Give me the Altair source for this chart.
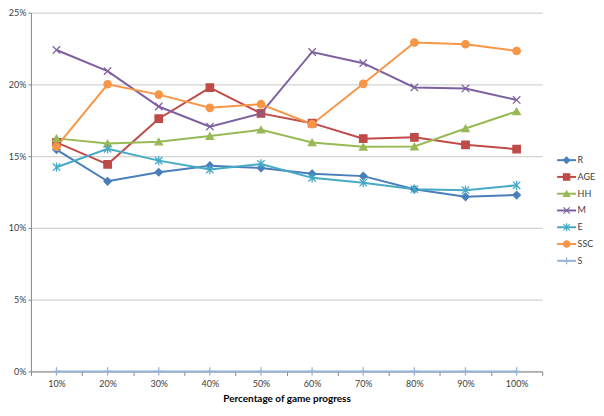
import altair as alt
import pandas as pd

progress = ["10%", "20%", "30%", "40%", "50%", "60%", "70%", "80%", "90%", "100%"]
series = ["R", "AGE", "HH", "M", "E", "SSC", "S"]

R = [15.46, 13.25, 13.88, 14.34, 14.18, 13.77, 13.61, 12.70, 12.17, 12.29]
AGE = [15.96, 14.43, 17.61, 19.77, 17.98, 17.30, 16.22, 16.31, 15.79, 15.49]
HH = [16.24, 15.88, 16.01, 16.40, 16.84, 15.96, 15.65, 15.67, 16.93, 18.12]
M = [22.40, 20.93, 18.46, 17.06, 17.98, 22.26, 21.48, 19.79, 19.72, 18.92]
E = [14.23, 15.51, 14.69, 14.07, 14.46, 13.49, 13.15, 12.70, 12.63, 12.97]
SSC = [15.67, 20.01, 19.29, 18.37, 18.62, 17.23, 20.04, 22.92, 22.80, 22.33]
S = [0, 0, 0, 0, 0, 0, 0, 0, 0, 0]

values = {"R": R, "AGE": AGE, "HH": HH, "M": M, "E": E, "SSC": SSC, "S": S}

colors = ["#4A7EBB", "#BE4B48", "#98B954", "#7D60A0", "#46AAC5", "#F79646", "#95B3D7"]
shapes = [
    "diamond",
    "square",
    "triangle-up",
    "M-1,-1L1,1M-1,1L1,-1",
    "M-1,-1L1,1M-1,1L1,-1M0,-1.25L0,1.25",
    "circle",
    "M-1.1,0L1.1,0M0,-1.1L0,1.1",
]

rows = []
for si, s in enumerate(series):
    for p, v in zip(progress, values[s]):
        rows.append({"series": s, "order": si, "progress": p, "value": v / 100.0})
df = pd.DataFrame(rows)

cscale = alt.Scale(domain=series, range=colors)
sscale = alt.Scale(domain=series, range=shapes)

FONT = "Lato"
AX = "#868686"

x_enc = alt.X(
    "progress:O",
    sort=progress,
    bandPosition=0.5,
    scale=alt.Scale(type="band", paddingInner=0, paddingOuter=0),
    axis=alt.Axis(
        labelAngle=0,
        tickBand="extent",
        title="Percentage of game progress",
        titleFontWeight="bold",
        titleFontSize=10,
        titleColor="#000000",
        titlePadding=5,
        labelFontSize=9,
        labelColor="#404040",
        labelPadding=4,
        grid=False,
        domainColor=AX,
        tickColor=AX,
        tickSize=4,
    ),
)
y_enc = alt.Y(
    "value:Q",
    scale=alt.Scale(domain=[0, 0.25], nice=False),
    axis=alt.Axis(
        format="%",
        values=[0, 0.05, 0.10, 0.15, 0.20, 0.25],
        title=None,
        grid=True,
        gridColor="#D4D4D4",
        gridWidth=1.2,
        domainColor=AX,
        tickColor=AX,
        tickSize=3,
        labelFontSize=9,
        labelColor="#404040",
        labelPadding=2,
    ),
)

lines = alt.Chart(df).mark_line(strokeWidth=2).encode(
    x=x_enc,
    y=y_enc,
    color=alt.Color("series:N", scale=cscale, legend=None),
    order="order:Q",
    detail="series:N",
)

points = alt.Chart(df).mark_point(filled=True, opacity=1, size=55, strokeWidth=1.3).encode(
    x=x_enc,
    y=y_enc,
    color=alt.Color("series:N", scale=cscale, legend=None),
    stroke=alt.Stroke("series:N", scale=cscale, legend=None),
    shape=alt.Shape("series:N", scale=sscale, legend=None),
)

main = alt.layer(lines, points).properties(width=513, height=360)

leg_df = pd.DataFrame({"series": series})
ly = alt.Y("series:N", sort=series, scale=alt.Scale(type="point", domain=series, range=[148, 249], padding=0), axis=None)

leg_rule = alt.Chart(leg_df).mark_rule(strokeWidth=2).encode(
    x=alt.value(0), x2=alt.value(19), y=ly,
    color=alt.Color("series:N", scale=cscale, legend=None),
)
leg_pt = alt.Chart(leg_df).mark_point(filled=True, opacity=1, size=40, strokeWidth=1.2).encode(
    x=alt.value(9.5), y=ly,
    color=alt.Color("series:N", scale=cscale, legend=None),
    stroke=alt.Stroke("series:N", scale=cscale, legend=None),
    shape=alt.Shape("series:N", scale=sscale, legend=None),
)
leg_txt = alt.Chart(leg_df).mark_text(align="left", baseline="middle", fontSize=9, color="#404040").encode(
    x=alt.value(20.5), y=ly, text="series:N",
)
legend = alt.layer(leg_rule, leg_pt, leg_txt).properties(width=36, height=360)

chart = (
    alt.hconcat(main, legend, spacing=13)
    .resolve_scale(y="independent")
    .configure(font=FONT, padding={"left": 0, "top": 0, "right": 0, "bottom": 0})
    .configure_view(strokeWidth=0)
    .configure_axis(labelFont=FONT, titleFont=FONT)
)

chart.save("out.html", embed_options={"renderer": "svg", "actions": False})
